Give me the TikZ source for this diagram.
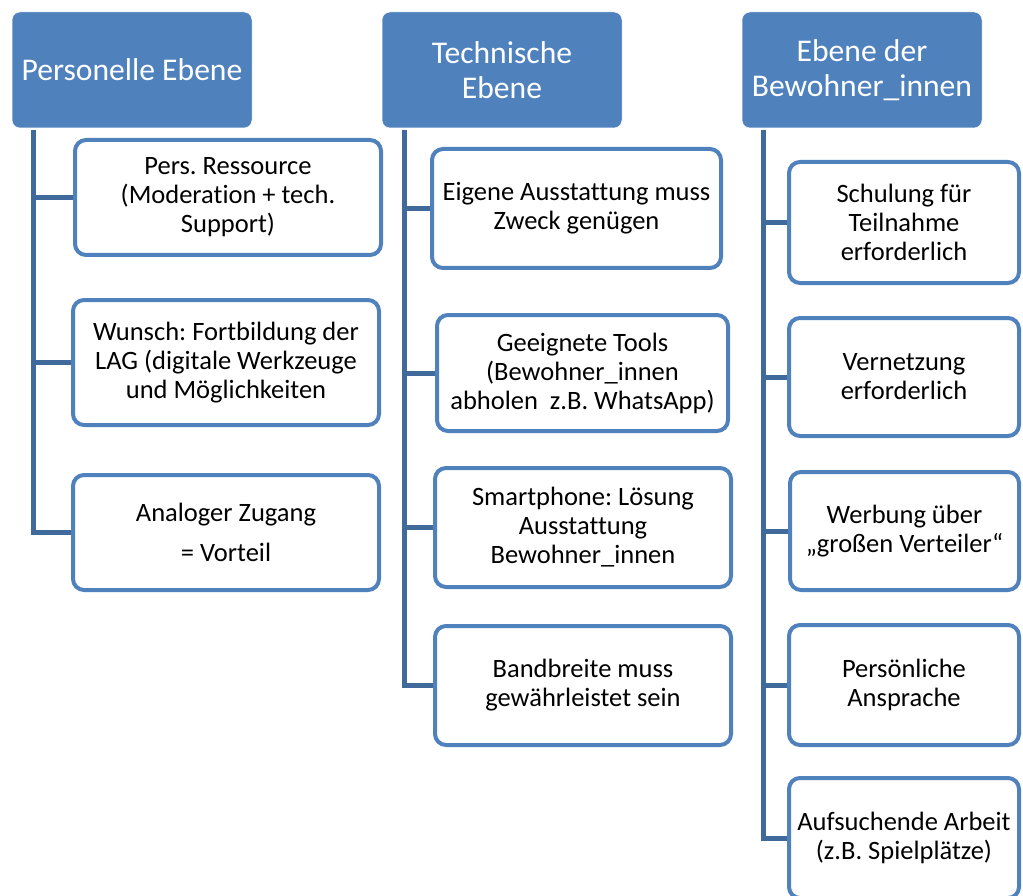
\documentclass[tikz,border=0pt]{standalone}
\usepackage{fontspec}
\setmainfont{Carlito}[Ligatures=NoCommon]
\frenchspacing
\definecolor{hdr}{RGB}{79,129,189}
\definecolor{conn}{RGB}{65,106,156}
\begin{document}
\begin{tikzpicture}[x=1pt,y=-1pt,
  hdrbox/.style={fill=hdr, draw=white, line width=0.5pt, rounded corners=8pt, text=white, align=center,
    font=\fontsize{31.6}{35}\selectfont, inner sep=0pt, minimum width=240pt, minimum height=116pt},
  childbox/.style={draw=hdr, fill=white, line width=4pt, rounded corners=11pt, align=center,
    font=\fontsize{26.5}{29}\selectfont, inner sep=0pt},
  connline/.style={draw=conn, line width=5pt}]
\useasboundingbox (0,0) rectangle (1023,896);

% headers
\node[hdrbox] (h1) at (132,70) {Personelle Ebene};
\node[hdrbox] (h2) at (502,70) {Technische\\Ebene};
\node[hdrbox] (h3) at (862,70) {Ebene der\\Bewohner\_innen};

% column 1
\node[childbox, minimum width=306pt, minimum height=115pt] (c11) at (228,197.5) {Pers. Ressource\\(Moderation + tech.\\Support)};
\node[childbox, minimum width=306pt, minimum height=125pt] (c12) at (226,362.5) {Wunsch: Fortbildung der\\LAG (digitale Werkzeuge\\und Möglichkeiten};
\node[childbox, minimum width=306pt, minimum height=115pt] (c13) at (226,532.5) {Analoger Zugang\\[11pt]= Vorteil};

% column 2
\node[childbox, minimum width=289pt, minimum height=119pt] (c21) at (576.5,208.5) {Eigene Ausstattung muss\\Zweck genügen};
\node[childbox, minimum width=291pt, minimum height=116pt] (c22) at (582.5,373) {Geeignete Tools\\(Bewohner\_innen\\abholen\ \ z.B. WhatsApp)};
\node[childbox, minimum width=296pt, minimum height=119pt] (c23) at (583,527.5) {Smartphone: Lösung\\Ausstattung\\Bewohner\_innen};
\node[childbox, minimum width=296pt, minimum height=119pt] (c24) at (583,685.5) {Bandbreite muss\\gewährleistet sein};

% column 3
\node[childbox, minimum width=230pt, minimum height=121pt] (c31) at (904,222.5) {Schulung für\\Teilnahme\\erforderlich};
\node[childbox, minimum width=230pt, minimum height=118pt] (c32) at (904,377) {Vernetzung\\erforderlich};
\node[childbox, minimum width=229pt, minimum height=118pt] (c33) at (904.5,531) {Werbung über\\„großen Verteiler“};
\node[childbox, minimum width=230pt, minimum height=120pt] (c34) at (904,685) {Persönliche\\Ansprache};
\node[childbox, minimum width=230pt, minimum height=120pt] (c35) at (904,838) {Aufsuchende Arbeit\\(z.B. Spielplätze)};

% connectors
\coordinate (v1) at (33,130);
\coordinate (v2) at (404,130);
\coordinate (v3) at (763,130);

\draw[connline] (v1) |- (c13.west);
\draw[connline] (v1 |- c11.west) -- (c11.west);
\draw[connline] (v1 |- c12.west) -- (c12.west);

\draw[connline] (v2) |- (c24.west);
\draw[connline] (v2 |- c21.west) -- (c21.west);
\draw[connline] (v2 |- c22.west) -- (c22.west);
\draw[connline] (v2 |- c23.west) -- (c23.west);

\draw[connline] (v3) |- (c35.west);
\draw[connline] (v3 |- c31.west) -- (c31.west);
\draw[connline] (v3 |- c32.west) -- (c32.west);
\draw[connline] (v3 |- c33.west) -- (c33.west);
\draw[connline] (v3 |- c34.west) -- (c34.west);
\end{tikzpicture}
\end{document}
